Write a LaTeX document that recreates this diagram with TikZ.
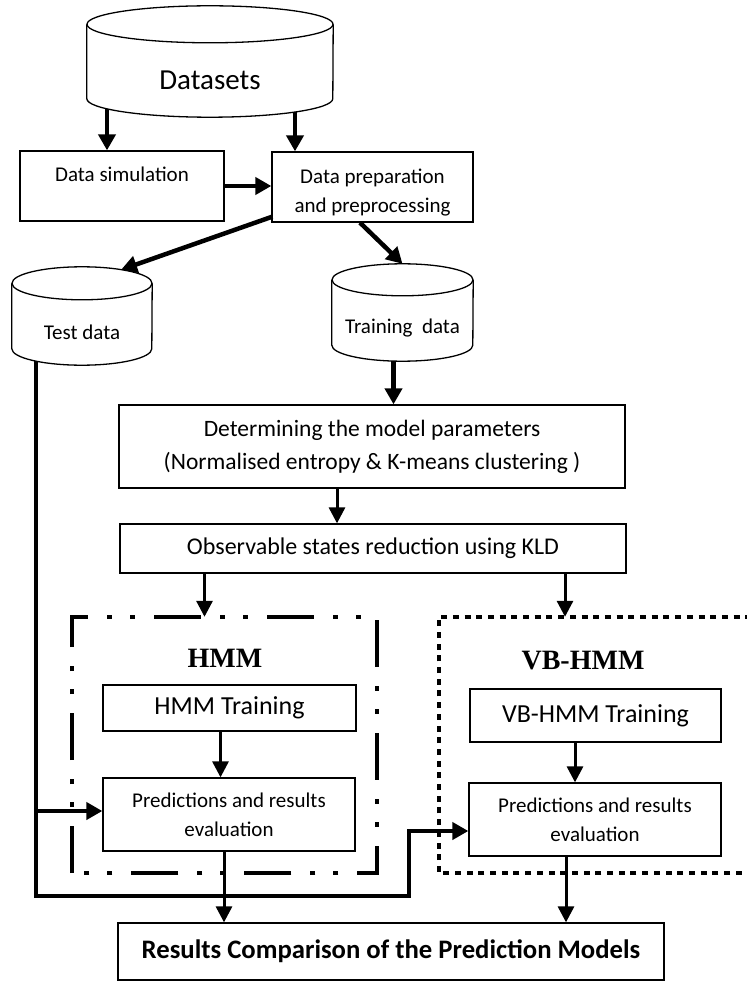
\documentclass[tikz,border=0pt]{standalone}
\usepackage{fontspec}
\setmainfont{Carlito}
\newfontfamily\hmmfont{Liberation Serif}
\usepackage{tikz}
\usetikzlibrary{arrows.meta}
% cylinder outline round a node: (node)(x radius:y radius)
\def\drum(#1)(#2:#3){%
	\draw[line width=1.3pt] ([yshift=#3]#1.north) ellipse [x radius=#2, y radius=#3];
	\draw[line width=1.3pt] ([yshift=#3]#1.north west) -- ([yshift=#3]#1.south west) arc [start angle=180, end angle=360, x radius=#2, y radius=#3] -- ([yshift=#3]#1.north east);}

\tikzset{
	box/.style={draw, rectangle, line width=1.3pt, inner sep=0pt, align=center, font=\fontsize{21}{29}\selectfont},
	store/.style={rectangle, inner sep=0pt, font=\fontsize{21}{25}\selectfont},
	arr/.style={line width=3pt, -{Triangle[length=16pt,width=16pt]}},
	bigarr/.style={line width=4.5pt, -{Triangle[length=16pt,width=17pt]}},
	testline/.style={line width=4.5pt, -{Triangle[length=16pt,width=17pt]}},
	modelname/.style={font=\hmmfont\bfseries\fontsize{28}{30}\selectfont},
	hmmline/.style={line width=4pt, dash pattern=on 47pt off 19pt on 5pt off 18pt on 5pt off 19pt},
	vbline/.style={line width=4pt, dash pattern=on 6pt off 5.7pt},
}

\begin{document}
\begin{tikzpicture}[x=1pt, y=-1pt]
		%%%%% START %%%%%
		\useasboundingbox (0, 0) rectangle (746, 981);
		
		\node[store, minimum width=246pt, minimum height=74pt, font=\fontsize{29}{32}\selectfont] (datasets) at (210, 80) {Datasets};
		\drum(datasets)(123pt:18.5pt)
		
		\node[box, minimum width=204pt, minimum height=70pt, text depth=24pt] (sim) at (122, 186) {Data simulation};
		\node[box, minimum width=201pt, minimum height=70pt] (prep) at (372.5, 187) {\rule{0pt}{26pt}Data preparation\\and preprocessing};
		
		\node[store, minimum width=140pt, minimum height=65pt] (test) at (82, 332.5) {Test data};
		\drum(test)(70pt:16.5pt)
		\node[store, minimum width=141pt, minimum height=65pt] (train) at (402.5, 328.5) {Training\ \ data};
		\drum(train)(70.5pt:16pt)
		
		\node[box, minimum width=506pt, minimum height=83pt, font=\fontsize{23.5}{33}\selectfont] (param) at (372, 446.5) {Determining the model parameters\\(Normalised entropy \& K-means clustering )};
		\node[box, minimum width=506pt, minimum height=49pt, font=\fontsize{24}{30}\selectfont] (kld) at (373, 548.5) {Observable states reduction using KLD};
		
		% model frames
		\node[minimum width=305pt, minimum height=256pt] (hmmframe) at (224.5, 745) {};
		\draw[hmmline] (hmmframe.south west) -- (hmmframe.north west) -- (hmmframe.north east) -- (hmmframe.south east) -- cycle;
		\node[minimum width=361pt, minimum height=256pt] (vbframe) at (619.5, 745) {};
		\draw[vbline] (vbframe.south east) -- (vbframe.south west) -- (vbframe.north west) -- (vbframe.north east);
		\node[modelname] (hmmname) at (225, 658) {HMM};
		\node[modelname] (vbname) at (583, 661) {VB-HMM};
		
		\node[box, minimum width=253pt, minimum height=46pt, font=\fontsize{26}{30}\selectfont] (hmmtrain) at (229.5, 708) {HMM Training};
		\node[box, minimum width=252pt, minimum height=73pt] (hmmpred) at (229, 814.5) {Predictions and results\\evaluation};
		\node[box, minimum width=251pt, minimum height=53pt, font=\fontsize{26}{30}\selectfont] (vbtrain) at (595.5, 715.5) {VB-HMM Training};
		\node[box, minimum width=252pt, minimum height=73pt] (vbpred) at (595, 819.5) {Predictions and results\\evaluation};
		
		\node[box, minimum width=546pt, minimum height=57pt, font=\bfseries\fontsize{26.7}{30}\selectfont] (result) at (391, 951.5) {Results Comparison of the Prediction Models};
		
		% arrows
		\draw[bigarr] ([xshift=-103pt, yshift=8.4pt]datasets.south) -- ([xshift=-15pt]sim.north);
		\draw[bigarr] ([xshift=85pt, yshift=5pt]datasets.south) -- ([xshift=-77.5pt]prep.north);
		\draw[bigarr] (sim.east) -- (sim.east -| prep.west);
		\draw[bigarr] ([xshift=1pt, yshift=6pt]prep.south west) -- ([xshift=39pt, yshift=30pt]test.north);
		\draw[bigarr] ([xshift=-12.5pt]prep.south) -- ([yshift=32pt]train.north);
		
		\draw[bigarr] ([xshift=-9pt]train.south) -- ([xshift=-9pt]train.south |- param.north);
		\draw[arr] ([xshift=-35pt]param.south) -- ([xshift=-35pt]param.south |- kld.north);
		\draw[arr] ([xshift=-20pt]hmmframe.north |- kld.south) -- ([xshift=-20pt]hmmframe.north);
		\draw[arr] ([xshift=-54.5pt]vbframe.north |- kld.south) -- ([xshift=-54.5pt]vbframe.north);
		
		\draw[arr] ([xshift=-9pt]hmmtrain.south) -- ([xshift=-9pt]hmmtrain.south |- hmmpred.north);
		\draw[arr] ([xshift=-20.5pt]vbtrain.south) -- ([xshift=-20.5pt]vbtrain.south |- vbpred.north);
		
		% test data line
		\coordinate (tl) at ([xshift=-46pt]test.south);
		\coordinate (turn) at (409, 896);
		\draw[testline] ([yshift=4pt]tl) |- (turn) |- ([yshift=-11.5pt]vbpred.west);
		\draw[bigarr] ([yshift=3.5pt]tl |- hmmpred.west) -- ([yshift=3.5pt]hmmpred.west);
		
		\draw[arr] ([xshift=-5pt]hmmpred.south) -- ([xshift=-5pt]hmmpred.south |- result.north);
		\draw[arr] ([xshift=-29pt]vbpred.south) -- ([xshift=-29pt]vbpred.south |- result.north);
		
		%%%%% END %%%%%
\end{tikzpicture}
\end{document}
